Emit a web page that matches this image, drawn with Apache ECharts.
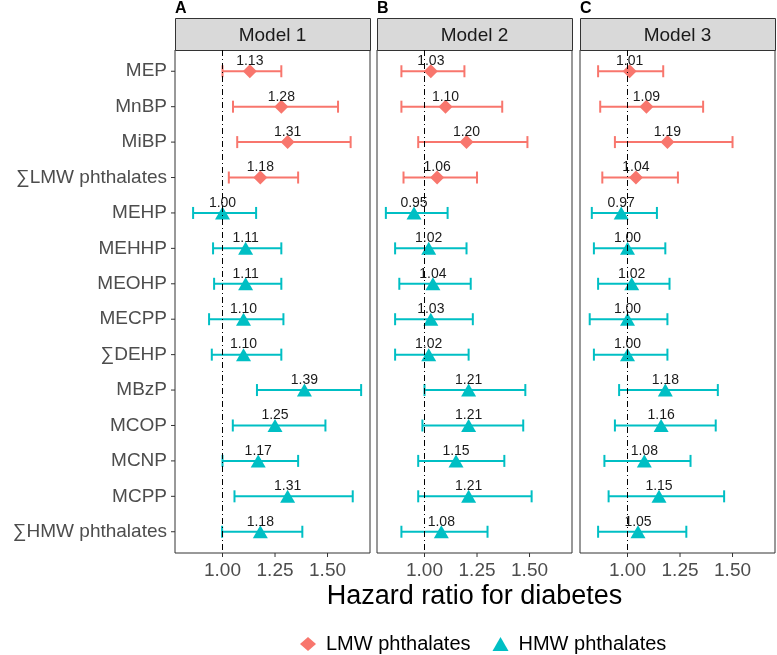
<!DOCTYPE html>
<html>
<head>
<meta charset="utf-8">
<script src="https://cdn.jsdelivr.net/npm/echarts@6/dist/echarts.min.js"></script>
<style>
  html, body { margin: 0; padding: 0; background: #fff; }
  #chart { width: 777px; height: 655px; }
</style>
</head>
<body>
<div id="chart"></div>
<script>
const categories = ['MEP', 'MnBP', 'MiBP', '∑LMW phthalates', 'MEHP', 'MEHHP', 'MEOHP',
  'MECPP', '∑DEHP', 'MBzP', 'MCOP', 'MCNP', 'MCPP', '∑HMW phthalates']
const groups = ['LMW', 'LMW', 'LMW', 'LMW', 'HMW', 'HMW', 'HMW',
  'HMW', 'HMW', 'HMW', 'HMW', 'HMW', 'HMW', 'HMW']
const models = ['Model 1', 'Model 2', 'Model 3']
const panelTags = ['A', 'B', 'C']

const hr1 = [1.13, 1.28, 1.31, 1.18, 1.00, 1.11, 1.11, 1.10, 1.10, 1.39, 1.25, 1.17, 1.31, 1.18]
const lo1 = [1.00, 1.05, 1.07, 1.03, 0.86, 0.955, 0.96, 0.936, 0.949, 1.164, 1.049, 1.00, 1.057, 0.998]
const up1 = [1.28, 1.55, 1.61, 1.36, 1.16, 1.28, 1.28, 1.29, 1.28, 1.66, 1.49, 1.36, 1.62, 1.38]

const hr2 = [1.03, 1.10, 1.20, 1.06, 0.95, 1.02, 1.04, 1.03, 1.02, 1.21, 1.21, 1.15, 1.21, 1.08]
const lo2 = [0.89, 0.89, 0.97, 0.90, 0.816, 0.86, 0.88, 0.86, 0.86, 1.00, 0.99, 0.97, 0.97, 0.89]
const up2 = [1.19, 1.37, 1.49, 1.25, 1.11, 1.20, 1.22, 1.23, 1.21, 1.48, 1.47, 1.38, 1.51, 1.30]

const hr3 = [1.01, 1.09, 1.19, 1.04, 0.97, 1.00, 1.02, 1.00, 1.00, 1.18, 1.16, 1.08, 1.15, 1.05]
const lo3 = [0.86, 0.87, 0.94, 0.88, 0.83, 0.84, 0.86, 0.82, 0.84, 0.96, 0.94, 0.89, 0.91, 0.86]
const up3 = [1.17, 1.36, 1.50, 1.24, 1.14, 1.18, 1.20, 1.19, 1.19, 1.43, 1.42, 1.30, 1.46, 1.28]

const xTicks = [1.00, 1.25, 1.50]
const refLine = 1

const hrs = [hr1, hr2, hr3]
const los = [lo1, lo2, lo3]
const ups = [up1, up2, up3]

// layout (px)
const FONT = 'Liberation Sans, Arial, sans-serif'
const panelLefts = [175, 377, 580]
const panelW = 195
const panelTop = 50
const panelH = 503
const stripTop = 18
const colors = { LMW: '#F8766D', HMW: '#00BFC4' }
const names = { LMW: 'LMW phthalates', HMW: 'HMW phthalates' }
const symbols = { LMW: 'diamond', HMW: 'triangle' }

// ggplot style 5% expansion of the data range
const allLo = Math.min(...lo1, ...lo2, ...lo3)
const allUp = Math.max(...up1, ...up2, ...up3)
const pad = (allUp - allLo) * 0.05
const xMin = allLo - pad
const xMax = allUp + pad
const rowIdx = categories.map((_, i) => i)
const yMin = -0.6
const yMax = categories.length - 1 + 0.6

const grids = []
const xAxes = []
const yAxes = []
const series = []
const graphics = []

const renderBar = (params, api) => {
  const a = api.coord([api.value(0), api.value(2)])
  const b = api.coord([api.value(1), api.value(2)])
  const cap = 6
  const style = { stroke: api.visual('color'), lineWidth: 2 }
  return {
    type: 'group',
    children: [
      { type: 'line', shape: { x1: a[0], y1: a[1], x2: b[0], y2: b[1] }, style },
      { type: 'line', shape: { x1: a[0], y1: a[1] - cap, x2: a[0], y2: a[1] + cap }, style },
      { type: 'line', shape: { x1: b[0], y1: b[1] - cap, x2: b[0], y2: b[1] + cap }, style }
    ]
  }
}

// axis ticks drawn by hand, outside the panel border
const renderXTick = (params, api) => {
  const p = api.coord([api.value(0), yMax])
  return { type: 'line', shape: { x1: p[0], y1: p[1], x2: p[0], y2: p[1] + 4 }, style: { stroke: '#333', lineWidth: 1 } }
}
const renderYTick = (params, api) => {
  const p = api.coord([xMin, api.value(0)])
  return { type: 'line', shape: { x1: p[0] - 4, y1: p[1], x2: p[0], y2: p[1] }, style: { stroke: '#333', lineWidth: 1 } }
}

models.forEach((m, p) => {
  grids.push({
    left: panelLefts[p], top: panelTop, width: panelW, height: panelH,
    show: true, borderColor: '#333', borderWidth: 1, backgroundColor: '#fff'
  })
  xAxes.push({
    type: 'value', gridIndex: p, min: xMin, max: xMax,
    axisLine: { show: false },
    splitLine: { show: false },
    axisTick: { show: false },
    axisLabel: {
      customValues: xTicks, margin: 8, fontSize: 19, color: '#4D4D4D', fontFamily: FONT,
      formatter: v => v.toFixed(2)
    }
  })
  yAxes.push({
    type: 'value', gridIndex: p, inverse: true, min: yMin, max: yMax,
    axisLine: { show: false },
    splitLine: { show: false },
    axisTick: { show: false },
    axisLabel: {
      show: p === 0, customValues: rowIdx, margin: 8, fontSize: 19, color: '#4D4D4D',
      fontFamily: FONT, formatter: v => categories[Math.round(v)] || ''
    }
  })

  series.push({
    type: 'custom', xAxisIndex: p, yAxisIndex: p, silent: true, clip: false,
    renderItem: renderXTick, data: xTicks.map(v => [v])
  })
  if (p === 0) {
    series.push({
      type: 'custom', xAxisIndex: p, yAxisIndex: p, silent: true, clip: false,
      renderItem: renderYTick, data: rowIdx.map(i => [i])
    })
  }

  ;['LMW', 'HMW'].forEach((g, gi) => {
    const idx = rowIdx.filter(i => groups[i] === g)
    const bar = {
      type: 'custom', name: names[g], xAxisIndex: p, yAxisIndex: p,
      itemStyle: { color: colors[g] },
      renderItem: renderBar,
      data: idx.map(i => [los[p][i], ups[p][i], i]),
      silent: true, z: 2
    }
    if (gi === 0) {
      bar.markLine = {
        silent: true, symbol: 'none', label: { show: false },
        lineStyle: { color: '#000', width: 1, type: [6, 3, 1, 3] },
        data: [{ xAxis: refLine }], z: 5
      }
    }
    series.push(bar)
    series.push({
      type: 'scatter', name: names[g], xAxisIndex: p, yAxisIndex: p,
      symbol: symbols[g], symbolSize: g === 'LMW' ? [14, 14] : [15, 13],
      itemStyle: { color: colors[g], opacity: 1 },
      label: {
        show: true, position: 'inside', offset: [0, -10],
        fontSize: 14, color: '#1A1A1A', fontFamily: FONT,
        formatter: d => d.value[0].toFixed(2)
      },
      data: idx.map(i => [hrs[p][i], i]),
      z: 3
    })
  })

  // facet strip
  graphics.push({
    type: 'rect',
    shape: { x: panelLefts[p] + 0.5, y: stripTop + 0.5, width: panelW, height: panelTop - stripTop },
    style: { fill: '#D9D9D9', stroke: '#333', lineWidth: 1 }
  })
  graphics.push({
    type: 'text', x: panelLefts[p] + panelW / 2, y: (stripTop + panelTop) / 2 + 2,
    style: {
      text: m, fill: '#1A1A1A', font: '19px ' + FONT, textAlign: 'center', textVerticalAlign: 'middle'
    }
  })
  graphics.push({
    type: 'text', x: panelLefts[p], y: 9,
    style: {
      text: panelTags[p], fill: '#000', font: 'bold 16px ' + FONT, textAlign: 'left', textVerticalAlign: 'middle'
    }
  })
})

graphics.push({
  type: 'text', x: panelLefts[1] + panelW / 2, y: 597,
  style: {
    text: 'Hazard ratio for diabetes', fill: '#000', font: '27px ' + FONT,
    textAlign: 'center', textVerticalAlign: 'middle'
  }
})

const chart = echarts.init(document.getElementById('chart'))
chart.setOption({
  animation: false,
  backgroundColor: '#fff',
  grid: grids,
  xAxis: xAxes,
  yAxis: yAxes,
  legend: {
    left: 295, top: 629, itemGap: 22, itemWidth: 16, itemHeight: 14,
    textStyle: { fontSize: 20, color: '#000', fontFamily: FONT, padding: [0, 0, 0, 5] },
    data: [
      { name: names.LMW, icon: 'diamond' },
      { name: names.HMW, icon: 'triangle' }
    ]
  },
  graphic: graphics,
  series
})
</script>
</body>
</html>
